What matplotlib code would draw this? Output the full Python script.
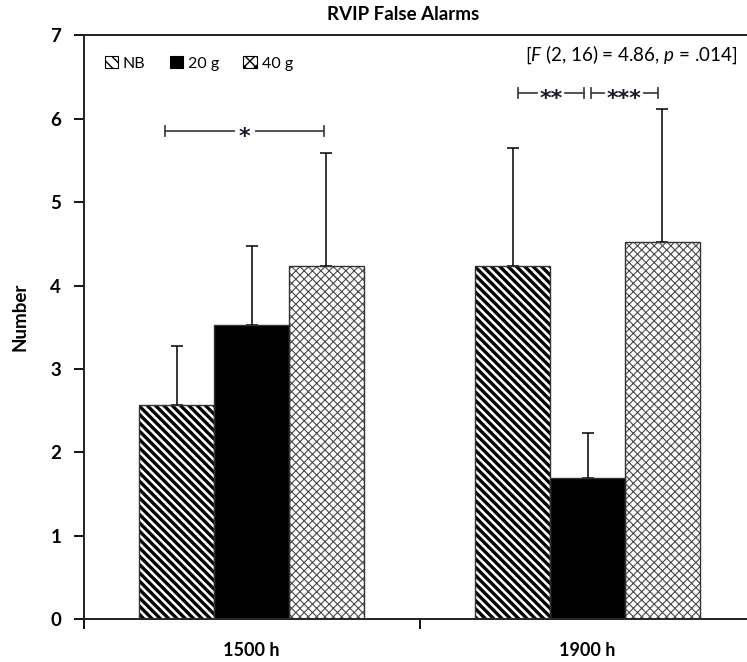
import numpy as np
import matplotlib
matplotlib.use("Agg")
import matplotlib.pyplot as plt
from matplotlib.patches import Patch

# ---- data ----
times = ["1500 h", "1900 h"]
groups = ["NB", "20 g", "40 g"]
nb_mean = [2.57, 4.23]
g20_mean = [3.53, 1.69]
g40_mean = [4.23, 4.52]
nb_err = [0.71, 1.42]
g20_err = [0.94, 0.54]
g40_err = [1.36, 1.60]
stats_text = r"[$\mathit{F}$ (2, 16) = 4.86, $\mathit{p}$ = .014]"

plt.rcParams["font.family"] = ["Lato", "DejaVu Sans"]
plt.rcParams["mathtext.fontset"] = "custom"
plt.rcParams["mathtext.rm"] = "Lato"
plt.rcParams["mathtext.it"] = "Lato:italic"

fig = plt.figure(figsize=(7.47, 6.62), dpi=100)
ax = fig.add_axes([0.1118, 0.0645, 0.8996, 0.882])

x = np.arange(len(times))
w = 0.223
offs = [-w, 0.0, w]
means = [nb_mean, g20_mean, g40_mean]
errs = [nb_err, g20_err, g40_err]
# style per group: facecolor, hatch, hatch colour, hatch linewidth
styles = [("white", "\\" * 4, "black", 2.4),
          ("black", None, "black", 1.0),
          ("white", "xxxx", "#4a4a4a", 0.8)]

for m, e, o, (fc, h, hc, hlw) in zip(means, errs, offs, styles):
    with plt.rc_context({"hatch.linewidth": hlw}):
        bars = ax.bar(x + o, m, w, color=fc, edgecolor=hc, hatch=h, linewidth=0, zorder=2)
        for b in bars:
            if hasattr(b, "set_hatch_linewidth"):
                b.set_hatch_linewidth(hlw)
    ax.bar(x + o, m, w, fill=False, edgecolor="#333333", linewidth=1.0, zorder=3)
    ax.errorbar(x + o, m, yerr=[np.zeros(len(m)), e], fmt="none", ecolor="black",
                elinewidth=1.1, capsize=4, capthick=1.1, zorder=1)

# significance brackets
def bracket(x0, x1, y, label, gap):
    xm = (x0 + x1) / 2
    kw = dict(color="#444444", lw=1.3, zorder=4)
    ax.plot([x0, xm - gap], [y, y], **kw)
    ax.plot([xm + gap, x1], [y, y], **kw)
    ax.plot([x0, x0], [y - 0.06, y + 0.06], **kw)
    ax.plot([x1, x1], [y - 0.06, y + 0.06], **kw)
    ax.annotate(label, (xm, y), xytext=(0, -8.5), textcoords="offset points",
                ha="center", va="baseline", fontsize=16, fontweight="bold",
                family="DejaVu Sans", color="#1a1a2e", zorder=5)

bracket(-0.257, 0.216, 5.85, "*", 0.033)
bracket(0.792, 0.990, 6.31, "**", 0.042)
bracket(1.010, 1.209, 6.31, "***", 0.06)

ax.text(0.973, 0.987, stats_text, transform=ax.transAxes, ha="right", va="top",
        fontsize=13.5)

# axes styling
ax.set_xlim(-0.5, 1.5)
ax.set_ylim(0, 7)
ax.set_yticks(range(0, 8))
ax.set_xticks(x)
ax.set_xticklabels(times, fontsize=13, fontweight="bold")
ax.set_xticks([-0.5, 0.5, 1.5], minor=True)
ax.tick_params(axis="x", which="major", length=0, pad=16)
ax.tick_params(axis="x", which="minor", length=7, width=1.3, direction="out")
ax.tick_params(axis="y", length=7, width=1.3, pad=9, labelsize=13.5)
for lab in ax.get_yticklabels():
    lab.set_fontweight("bold")
for s in ["left", "bottom", "top"]:
    ax.spines[s].set_linewidth(1.4)
    ax.spines[s].set_color("#222222")
ax.spines["right"].set_visible(False)

fig.text(0.54, 0.978, "RVIP False Alarms", ha="center", va="center",
         fontsize=13.5, fontweight="bold")
fig.text(0.027, 0.522, "Number", ha="center", va="center", rotation=90,
         fontsize=13.5, fontweight="bold")

# legend
leg_hatch = ["\\\\\\", None, "xxx"]
handles = []
for g, (fc, h, hc, hlw), lh in zip(groups, styles, leg_hatch):
    handles.append(Patch(facecolor=fc, edgecolor="black", hatch=lh,
                         linewidth=0.8, label=g))
ax.legend(handles=handles, ncol=3, loc="upper left", bbox_to_anchor=(0.01, 0.99),
          frameon=False, fontsize=11.5, handlelength=0.85, handleheight=0.85,
          handletextpad=0.3, columnspacing=1.5)

fig.savefig("out.png", dpi=100)
